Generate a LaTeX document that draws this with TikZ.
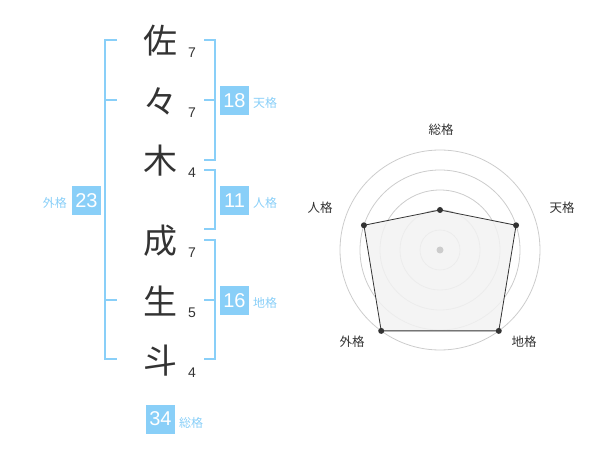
\documentclass[tikz,border=0pt]{standalone}
\usepackage{fontspec}
\setmainfont{Liberation Sans}
\newfontfamily\jp{Noto Sans CJK JP}
\definecolor{kblue}{HTML}{89CFF8}
\definecolor{kdark}{HTML}{333333}
\definecolor{kgrid}{HTML}{CCCCCC}
\definecolor{kfill}{HTML}{F2F2F2}
\begin{document}
\begin{tikzpicture}[x=1pt,y=-1pt,
  kanji/.style={font=\jp\fontsize{34}{34}\selectfont,text=kdark,inner sep=0pt},
  stroke/.style={font=\fontsize{14}{14}\selectfont,text=kdark,inner sep=0pt},
  numbox/.style={fill=kblue,text=white,minimum width=29pt,minimum height=29pt,inner sep=0pt,font=\fontsize{20}{20}\selectfont},
  kaku/.style={font=\jp\fontsize{12}{12}\selectfont,text=kblue,inner sep=0pt},
  bracket/.style={draw=kblue,line width=2pt},
  rlab/.style={font=\jp\fontsize{12.5}{12.5}\selectfont,text=kdark,inner sep=0pt},
  ring/.style={draw=kgrid,line width=0.8pt},
  vdot/.style={circle,fill=kdark,inner sep=0pt,minimum size=6pt}]
\useasboundingbox (0,0) rectangle (600,470);
% kanji
\node[kanji] (k1) at (160,41) {佐};
\node[kanji] (k2) at (160,101) {々};
\node[kanji] (k3) at (160,161) {木};
\node[kanji] (k4) at (160,241) {成};
\node[kanji] (k5) at (160,301) {生};
\node[kanji] (k6) at (160,361) {斗};
% stroke counts
\node[stroke] (s1) at (192,53) {7};
\node[stroke] (s2) at (192,113) {7};
\node[stroke] (s3) at (192,173) {4};
\node[stroke] (s4) at (192,253) {7};
\node[stroke] (s5) at (192,313) {5};
\node[stroke] (s6) at (192,373) {4};
% brackets
\draw[bracket] (117,40) -- (105,40) -- (105,359) -- (117,359);
\draw[bracket] (105,100) -- (117,100);
\draw[bracket] (105,300) -- (117,300);
\draw[bracket] (204,40) -- (215,40) -- (215,160) -- (204,160);
\draw[bracket] (204,100) -- (215,100);
\draw[bracket] (204,170) -- (215,170) -- (215,229) -- (204,229);
\draw[bracket] (204,240) -- (215,240) -- (215,359) -- (204,359);
\draw[bracket] (204,300) -- (215,300);
% boxes
\node[numbox] (b18) at (234.5,100.5) {18};
\node[kaku,anchor=west] (t18) at (253,103) {天格};
\node[numbox] (b11) at (234.5,200.5) {11};
\node[kaku,anchor=west] (t11) at (253,203) {人格};
\node[numbox] (b16) at (234.5,300.5) {16};
\node[kaku,anchor=west] (t16) at (253,303) {地格};
\node[numbox] (b23) at (86.5,200.5) {23};
\node[kaku,anchor=east] (t23) at (67,203) {外格};
\node[numbox] (b34) at (160.5,419) {34};
\node[kaku,anchor=west] (t34) at (179,423) {総格};
% radar
\coordinate (c) at (440,250);
\foreach \r in {20,40,60,80,100} \draw[ring] (c) circle[radius=\r];
\path (c) ++(0,-40) coordinate (pS)
      (c) ++(76.08,-24.72) coordinate (pT)
      (c) ++(58.78,80.90) coordinate (pC)
      (c) ++(-58.78,80.90) coordinate (pG)
      (c) ++(-76.08,-24.72) coordinate (pJ);
\draw[kdark,line width=0.8pt,fill=kfill,fill opacity=0.85] (pS) -- (pT) -- (pC) -- (pG) -- (pJ) -- cycle;
\fill[kgrid] (c) circle[radius=3.5];
\node[vdot] (dS) at (pS) {};
\node[vdot] (dT) at (pT) {};
\node[vdot] (dC) at (pC) {};
\node[vdot] (dG) at (pG) {};
\node[vdot] (dJ) at (pJ) {};
\node[rlab] (lS) at (441,130) {総格};
\node[rlab] (lT) at (562,208) {天格};
\node[rlab] (lJ) at (320,208) {人格};
\node[rlab] (lG) at (352,342) {外格};
\node[rlab] (lC) at (524,342) {地格};
\end{tikzpicture}
\end{document}
